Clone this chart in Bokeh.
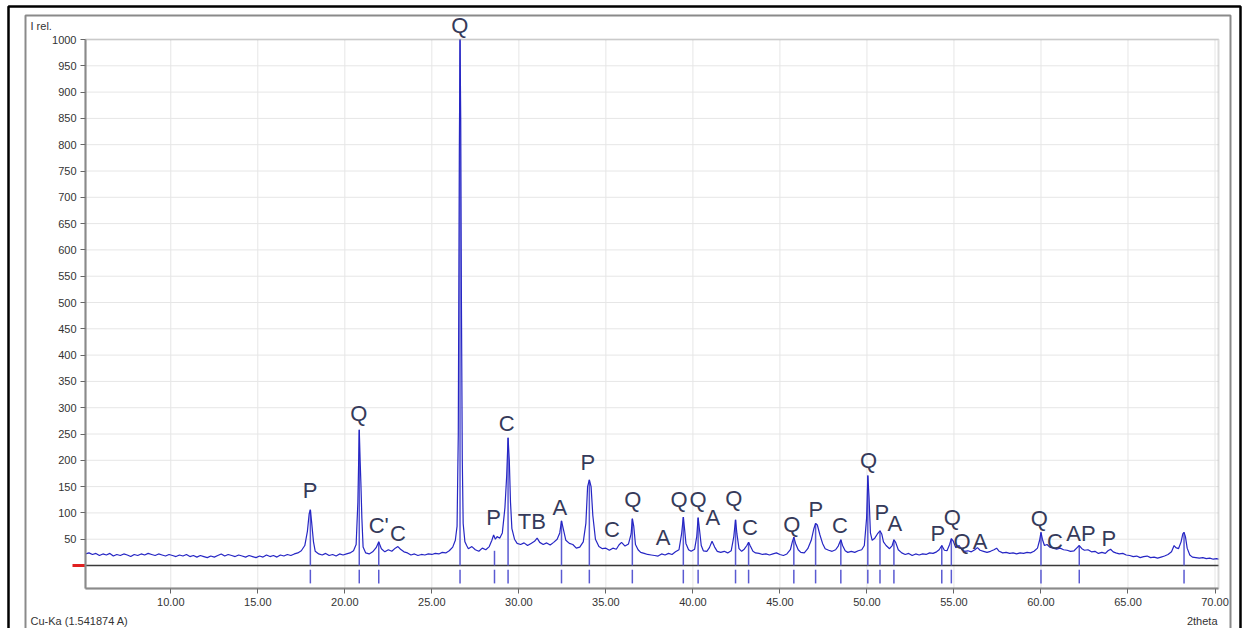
from bokeh.plotting import figure
from bokeh.models import (Range1d, FixedTicker, Label, LabelSet, LinearAxis,
                          ColumnDataSource, BoxAnnotation, PrintfTickFormatter)
from bokeh.embed import file_html
from bokeh.resources import INLINE
from bokeh.core.properties import value

# ---------------- data ----------------
two_theta = [
    5.1, 5.3, 5.5, 5.7, 5.9, 6.1, 6.3, 6.5, 6.7, 6.9,
    7.1, 7.3, 7.5, 7.7, 7.9, 8.1, 8.3, 8.5, 8.7, 8.9,
    9.1, 9.3, 9.5, 9.7, 9.9, 10.1, 10.3, 10.5, 10.7, 10.9,
    11.1, 11.3, 11.5, 11.7, 11.9, 12.1, 12.3, 12.5, 12.7, 12.9,
    13.1, 13.3, 13.5, 13.7, 13.9, 14.1, 14.3, 14.5, 14.7, 14.9,
    15.1, 15.3, 15.5, 15.7, 15.9, 16.1, 16.3, 16.5, 16.7, 16.9,
    17.1, 17.3, 17.5, 17.7, 17.85, 17.95, 18.02, 18.1, 18.2, 18.3,
    18.5, 18.7, 18.9, 19.1, 19.3, 19.5, 19.7, 19.9, 20.1, 20.3,
    20.5, 20.65, 20.75, 20.83, 20.88, 20.92, 20.98, 21.05, 21.2, 21.4,
    21.6, 21.8, 21.95, 22.1, 22.3, 22.5, 22.7, 22.9, 23.05, 23.2,
    23.4, 23.6, 23.8, 24.0, 24.2, 24.4, 24.6, 24.8, 25.0, 25.2,
    25.4, 25.6, 25.8, 26.0, 26.2, 26.35, 26.45, 26.52, 26.58, 26.62,
    26.66, 26.7, 26.75, 26.8, 26.9, 27.0, 27.1, 27.3, 27.5, 27.7,
    27.9, 28.1, 28.3, 28.45, 28.55, 28.65, 28.75, 28.9, 29.05, 29.2,
    29.3, 29.38, 29.45, 29.52, 29.6, 29.75, 29.9, 30.1, 30.3, 30.5,
    30.7, 30.9, 31.05, 31.2, 31.4, 31.6, 31.8, 32.0, 32.2, 32.35,
    32.45, 32.55, 32.7, 32.9, 33.1, 33.3, 33.5, 33.7, 33.85, 33.95,
    34.05, 34.15, 34.25, 34.4, 34.6, 34.8, 35.0, 35.2, 35.4, 35.6,
    35.75, 35.9, 36.1, 36.3, 36.45, 36.52, 36.6, 36.7, 36.85, 37.0,
    37.2, 37.4, 37.6, 37.8, 38.0, 38.2, 38.4, 38.6, 38.8, 39.0,
    39.2, 39.35, 39.45, 39.52, 39.6, 39.75, 39.9, 40.1, 40.22, 40.3,
    40.38, 40.48, 40.6, 40.8, 40.95, 41.1, 41.25, 41.4, 41.6, 41.8,
    42.0, 42.2, 42.35, 42.45, 42.53, 42.65, 42.8, 42.95, 43.1, 43.2,
    43.3, 43.45, 43.6, 43.8, 44.0, 44.2, 44.4, 44.6, 44.8, 45.0,
    45.2, 45.4, 45.6, 45.72, 45.8, 45.9, 46.05, 46.2, 46.4, 46.6,
    46.8, 46.95, 47.05, 47.15, 47.3, 47.45, 47.6, 47.8, 48.0, 48.2,
    48.35, 48.5, 48.6, 48.75, 48.9, 49.1, 49.3, 49.5, 49.7, 49.85,
    49.98, 50.05, 50.12, 50.2, 50.3, 50.45, 50.6, 50.75, 50.85, 50.95,
    51.1, 51.3, 51.45, 51.55, 51.65, 51.8, 52.0, 52.2, 52.4, 52.6,
    52.8, 53.0, 53.2, 53.4, 53.6, 53.8, 54.0, 54.15, 54.3, 54.45,
    54.6, 54.75, 54.85, 54.95, 55.1, 55.3, 55.45, 55.6, 55.8, 56.0,
    56.2, 56.35, 56.5, 56.7, 56.9, 57.1, 57.3, 57.45, 57.6, 57.8,
    58.0, 58.2, 58.4, 58.6, 58.8, 59.0, 59.2, 59.4, 59.6, 59.8,
    59.92, 60.0, 60.08, 60.2, 60.35, 60.5, 60.7, 60.9, 61.1, 61.3,
    61.5, 61.7, 61.9, 62.05, 62.2, 62.35, 62.5, 62.7, 62.9, 63.1,
    63.3, 63.5, 63.7, 63.85, 64.0, 64.15, 64.3, 64.5, 64.7, 64.9,
    65.1, 65.3, 65.5, 65.7, 65.9, 66.1, 66.3, 66.5, 66.7, 66.9,
    67.1, 67.3, 67.5, 67.65, 67.75, 67.9, 68.05, 68.15, 68.22, 68.3,
    68.4, 68.55, 68.7, 68.9, 69.1, 69.3, 69.5, 69.7, 69.9, 70.1,
    70.2,
]
intensity = [
    22, 24, 21, 23, 19, 22, 20, 23, 18, 21,
    19, 22, 20, 17, 21, 19, 22, 20, 23, 21,
    19, 22, 20, 18, 21, 19, 17, 20, 18, 21,
    17, 19, 16, 19, 17, 15, 18, 16, 19, 22,
    18, 21, 19, 17, 20, 18, 16, 19, 17, 15,
    18, 16, 20, 17, 19, 16, 20, 18, 21, 19,
    22, 24, 28, 38, 65, 98, 106, 80, 45, 27,
    22, 20, 23, 19, 21, 18, 22, 20, 22, 24,
    28, 40, 120, 258, 200, 160, 90, 35, 24, 22,
    26, 34, 45, 32, 26, 30, 27, 33, 36, 31,
    26, 24, 20, 22, 19, 21, 20, 22, 21, 23,
    22, 25, 24, 28, 35, 48, 75, 250, 790, 1000,
    850, 500, 200, 80, 45, 38, 32, 36, 30, 27,
    33, 30, 36, 48, 58, 50, 55, 52, 62, 110,
    170, 243, 200, 120, 70, 50, 42, 40, 43, 38,
    42, 46, 52, 44, 40, 43, 39, 44, 50, 62,
    85, 70, 48, 42, 40, 33, 35, 45, 80, 150,
    163, 150, 95, 50, 36, 32, 33, 29, 33, 31,
    39, 44, 37, 41, 60, 89, 75, 40, 30, 25,
    23, 21, 20, 19, 18, 22, 20, 23, 21, 26,
    30, 60, 92, 70, 42, 30, 27, 31, 55, 91,
    68, 38, 28, 27, 34, 46, 35, 27, 25, 27,
    24, 28, 55, 87, 60, 32, 27, 31, 38, 44,
    37, 27, 24, 23, 21, 22, 20, 22, 24, 21,
    19, 22, 30, 46, 54, 42, 30, 25, 24, 32,
    48, 70, 80, 77, 58, 42, 32, 29, 27, 30,
    37, 49, 38, 28, 25, 27, 25, 28, 30, 38,
    90, 171, 130, 62, 48, 52, 60, 66, 60, 45,
    38, 32, 38, 49, 44, 30, 24, 21, 23, 19,
    22, 20, 22, 21, 24, 23, 26, 30, 38, 29,
    28, 40, 51, 47, 34, 38, 30, 27, 28, 26,
    30, 34, 29, 27, 25, 27, 30, 33, 27, 24,
    25, 23, 24, 22, 24, 23, 25, 24, 27, 33,
    48, 63, 50, 38, 40, 35, 33, 31, 33, 30,
    29, 27, 28, 33, 38, 32, 29, 30, 26, 27,
    23, 25, 23, 28, 31, 26, 24, 22, 23, 20,
    19, 17, 18, 15, 17, 18, 15, 16, 14, 16,
    18, 21, 26, 38, 34, 32, 45, 60, 63, 55,
    33, 20, 16, 15, 14, 15, 13, 14, 12, 13,
    12,
]

stick_pos = [18.02, 20.83, 21.95, 26.62, 28.6, 29.38, 32.45, 34.05, 36.52,
             39.45, 40.3, 42.45, 43.2, 45.8, 47.05, 48.5, 50.05, 50.75,
             51.55, 54.3, 54.85, 60.0, 62.2, 68.22]
stick_height = [106, 258, 45, 1000, 28, 243, 85, 163, 89,
                92, 91, 87, 44, 54, 80, 49, 171, 66,
                49, 38, 51, 63, 38, 63]

peak_letter = ["P", "Q", "C'", "C", "Q", "P", "C", "TB", "A", "P", "C", "Q",
               "A", "Q", "Q", "A", "Q", "C", "Q", "P", "C", "Q", "P", "A",
               "P", "Q", "Q", "A", "Q", "C", "AP", "P"]
peak_x = [18.0, 20.8, 21.95, 23.05, 26.6, 28.55, 29.3, 30.75, 32.35, 33.97,
          35.35, 36.55, 38.28, 39.2, 40.29, 41.15, 42.35, 43.28, 45.69, 47.07,
          48.45, 50.1, 50.86, 51.6, 54.08, 54.9, 55.46, 56.5, 59.9, 60.8,
          62.3, 63.9]
peak_y = [143, 289, 76, 61, 1027, 91, 270, 84, 110, 196,
          68, 125, 53, 125, 125, 91, 127, 72, 78, 106,
          76, 200, 101, 80, 61, 91, 46, 46, 89, 46,
          61, 51]

x_ticks = [10, 15, 20, 25, 30, 35, 40, 45, 50, 55, 60, 65, 70]
y_ticks = [50, 100, 150, 200, 250, 300, 350, 400, 450, 500,
           550, 600, 650, 700, 750, 800, 850, 900, 950, 1000]

y_title = "I rel."
x_title = "2theta"
radiation = "Cu-Ka (1.541874 A)"

assert len(two_theta) == len(intensity)

# ---------------- layout (plot area limits and page-pixel helpers) ----------------
X_MIN, X_MAX = 5.1, 70.2          # data limits of the plotting area
Y_MIN, Y_MAX = -43.7, 1000.0
AREA_L, AREA_R, AREA_T, AREA_B = 85, 1218, 39, 588   # page pixels of plotting area
PAGE_L, PAGE_T, W, H = 0, 0, 1244, 628                # canvas on the page
PPX = (AREA_R - AREA_L) / (X_MAX - X_MIN)
PPY = (AREA_B - AREA_T) / (Y_MAX - Y_MIN)


def px_x(px):
    return X_MIN + (px - AREA_L) / PPX


def px_y(py):
    return Y_MAX - (py - AREA_T) / PPY


FONT = "Liberation Sans"
p = figure(width=W, height=H, title=None,
           x_range=Range1d(px_x(PAGE_L), px_x(PAGE_L + W)),
           y_range=Range1d(px_y(PAGE_T + H), px_y(PAGE_T)),
           x_axis_type=None, y_axis_type=None,
           output_backend="svg", toolbar_location=None,
           min_border=0, min_border_left=0, min_border_right=0,
           min_border_top=0, min_border_bottom=0)
p.background_fill_color = "white"
p.border_fill_color = "white"
p.outline_line_color = None
p.grid.visible = False

# grid lines (at the tick positions, bounded to the plotting area)
p.segment(x0=x_ticks, y0=Y_MIN, x1=x_ticks, y1=Y_MAX, line_color="#e6e6e6", line_width=1)
p.segment(x0=X_MIN, y0=y_ticks, x1=X_MAX, y1=y_ticks, line_color="#e6e6e6", line_width=1)

# outer frames: black page border and gray panel border
p.quad(left=px_x(8), right=px_x(1240), top=px_y(6), bottom=px_y(700),
       fill_color=None, line_color="#000000", line_width=2.5)
p.quad(left=px_x(25), right=px_x(1230), top=px_y(15), bottom=px_y(690),
       fill_color=None, line_color="#8a8a8a", line_width=2)

# axes fixed on the plotting area edges
yax = LinearAxis(fixed_location=X_MIN, bounds=(Y_MIN, Y_MAX), ticker=FixedTicker(ticks=y_ticks))
xax = LinearAxis(fixed_location=Y_MIN, bounds=(X_MIN, X_MAX), ticker=FixedTicker(ticks=x_ticks),
                 formatter=PrintfTickFormatter(format="%.2f"))
for ax in (xax, yax):
    ax.major_label_text_font = FONT
    ax.major_label_text_font_size = "11px"
    ax.major_label_text_color = "#333333"
    ax.axis_line_color = "#8a8a8a"
    ax.axis_line_width = 2
    ax.major_tick_line_color = "#666666"
    ax.major_tick_out = 5
    ax.major_tick_in = 0
    ax.minor_tick_line_color = None
    ax.major_label_standoff = 4
p.add_layout(yax, "left")
p.add_layout(xax, "below")

# zero base line and red zero marker
p.segment(x0=X_MIN, y0=0, x1=X_MAX, y1=0, line_color="#3a3a3a", line_width=1.5)
p.segment(x0=px_x(72), y0=0, x1=X_MIN, y1=0, line_color="#e02020", line_width=3)

# reference sticks
p.segment(x0=stick_pos, y0=0, x1=stick_pos, y1=stick_height,
          line_color="#5a5ad2", line_width=1.5)
p.segment(x0=stick_pos, y0=-8, x1=stick_pos, y1=-34,
          line_color="#5a5ad2", line_width=1.5)

# measured pattern
p.line(two_theta, intensity, line_color="#2626c4", line_width=1.2)

# plotting-area frame
p.add_layout(BoxAnnotation(left=X_MIN, right=X_MAX, bottom=Y_MIN, top=Y_MAX,
                           fill_color=None, line_color="#8a8a8a", line_width=2))

# phase letters
src = ColumnDataSource(dict(x=peak_x, y=peak_y, t=peak_letter))
p.add_layout(LabelSet(x="x", y="y", text="t", source=src,
                      text_align="center", text_baseline="middle",
                      text_font=value(FONT), text_font_size="22px",
                      text_color="#353a5a"))

# captions
p.add_layout(Label(x=X_MIN, y=Y_MAX, x_offset=-55, y_offset=14, text=y_title,
                   text_font=FONT, text_font_size="11px", text_color="#333333",
                   text_align="left", text_baseline="middle"))
p.add_layout(Label(x=X_MIN, y=Y_MIN, x_offset=-55, y_offset=-32, text=radiation,
                   text_font=FONT, text_font_size="11px", text_color="#333333",
                   text_align="left", text_baseline="middle"))
p.add_layout(Label(x=X_MAX, y=Y_MIN, x_offset=-1, y_offset=-32, text=x_title,
                   text_font=FONT, text_font_size="11px", text_color="#333333",
                   text_align="right", text_baseline="middle"))

open("out.html", "w").write(file_html(p, INLINE))
